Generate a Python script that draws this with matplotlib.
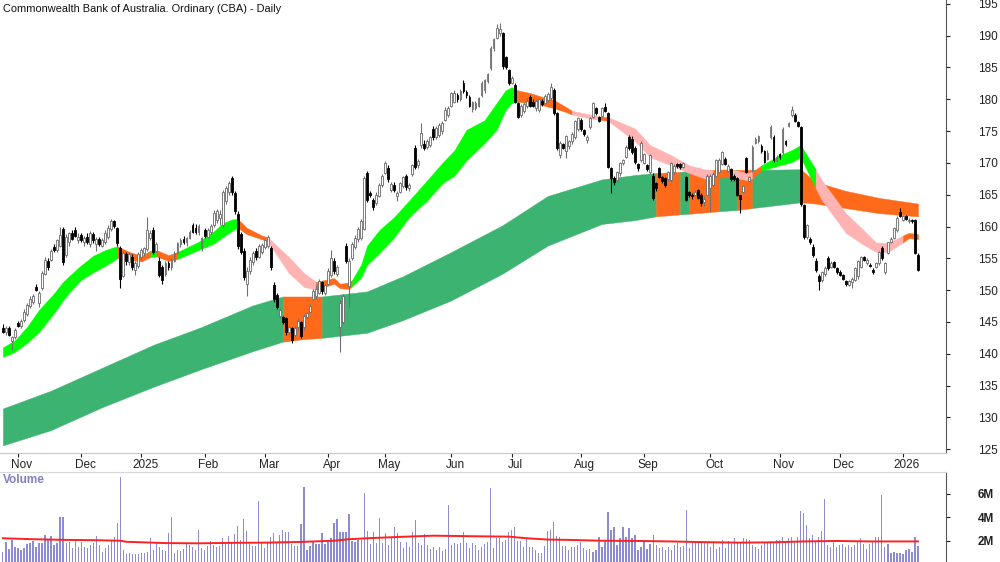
import matplotlib
matplotlib.use("Agg")
import matplotlib.pyplot as plt
import matplotlib.transforms as mtransforms
import numpy as np
import pandas as pd

plt.rcParams["font.family"] = ["Liberation Sans", "DejaVu Sans"]

# trading calendar (ASX holidays)
start_date = "2024-10-25"
holidays = ["2024-12-25", "2024-12-26", "2025-01-01", "2025-01-27", "2025-04-18",
            "2025-04-21", "2025-04-25", "2025-06-09", "2025-12-25", "2025-12-26",
            "2026-01-01"]

opens = [
    144.0, 143.4, 144.1, 142.0, 142.6, 144.8, 144.3, 145.3, 146.3, 147.5,
    148.2, 150.5, 147.9, 150.3, 152.5, 154.5, 154.8, 156.8, 156.3, 157.0,
    159.6, 155.5, 157.6, 159.0, 159.4, 157.8, 158.6, 157.6, 158.4, 157.3,
    158.8, 157.2, 158.0, 157.0, 157.5, 158.4, 159.6, 160.8, 159.8, 156.6,
    152.2, 155.6, 154.4, 155.2, 153.2, 153.8, 155.2, 155.8, 156.4, 158.2,
    159.5, 156.2, 154.6, 153.6, 152.6, 154.2, 153.6, 154.6, 155.8, 157.2,
    158.1, 157.5, 158.2, 160.2, 159.8, 159.2, 156.6, 159.4, 158.4, 159.2,
    160.2, 161.0, 161.4, 160.2, 164.0, 165.4, 167.6, 165.2, 162.0, 158.8,
    156.2, 151.0, 153.0, 154.4, 156.2, 155.2, 156.0, 156.8, 157.0, 156.6,
    150.8, 149.2, 145.9, 145.8, 145.6, 143.4, 144.0, 143.0, 144.2, 145.0,
    144.2, 145.8, 146.6, 148.6, 149.0, 149.6, 151.2, 149.6, 151.0, 152.4,
    154.6, 152.6, 144.2, 145.0, 157.0, 150.6, 155.0, 156.8, 158.0, 158.2,
    159.6, 168.4, 165.3, 164.2, 163.7, 164.8, 166.5, 168.4, 169.2, 165.8,
    166.6, 164.8, 165.4, 166.4, 168.0, 166.0, 168.3, 172.4, 169.6, 172.8,
    173.0, 172.5, 172.8, 175.4, 174.0, 174.4, 175.0, 176.8, 177.5, 179.0,
    179.6, 180.6, 180.0, 182.5, 181.2, 180.3, 178.4, 178.6, 179.0, 180.6,
    181.4, 182.8, 184.9, 188.0, 189.6, 190.4, 190.4, 186.6, 184.6, 182.6,
    182.2, 179.4, 177.5, 178.2, 179.0, 180.3, 179.6, 178.6, 178.3, 179.8,
    179.4, 179.9, 180.2, 181.4, 177.8, 171.2, 172.9, 171.8, 172.6, 173.4,
    174.0, 175.4, 176.8, 175.2, 173.6, 175.6, 177.2, 178.6, 177.2, 177.4,
    178.8, 177.8, 169.2, 167.6, 167.3, 168.4, 170.0, 171.0, 174.0, 173.8,
    172.3, 169.8, 170.4, 170.0, 169.6, 168.5, 168.0, 166.8, 169.2, 167.8,
    167.6, 167.5, 167.3, 168.6, 169.8, 169.8, 169.4, 167.8, 165.4, 165.0,
    165.0, 165.7, 165.0, 163.8, 165.0, 166.0, 166.6, 168.0, 168.6, 169.9,
    170.6, 168.8, 169.0, 168.0, 167.6, 164.9, 165.4, 170.8, 167.2, 168.9,
    173.2, 173.4, 172.6, 171.8, 170.6, 174.0, 174.0, 170.4, 171.4, 171.7,
    173.4, 175.8, 177.5, 177.6, 176.4, 175.6, 163.4, 158.3, 158.0, 156.8,
    154.6, 152.2, 151.6, 152.5, 155.0, 153.6, 154.4, 153.4, 152.9, 152.3,
    151.4, 150.8, 151.2, 151.6, 152.2, 153.6, 155.2, 154.2, 154.0, 153.2,
    153.6, 154.3, 156.6, 152.8, 155.8, 157.6, 158.2, 159.4, 162.3, 161.0,
    161.6, 160.8, 161.0, 161.0, 155.5,
]
highs = [
    144.6, 144.4, 144.3, 142.8, 144.0, 145.2, 145.5, 147.0, 148.0, 149.0,
    149.4, 150.9, 149.8, 153.0, 155.2, 155.0, 156.4, 157.2, 158.0, 159.9,
    160.0, 158.8, 159.2, 159.5, 159.9, 158.9, 159.0, 158.5, 159.0, 159.3,
    159.2, 158.4, 158.4, 158.2, 159.4, 160.2, 161.2, 161.1, 160.0, 157.0,
    156.2, 156.0, 156.0, 155.6, 154.6, 156.0, 156.6, 156.8, 161.5, 159.4,
    159.9, 157.6, 155.2, 154.0, 154.6, 154.6, 155.0, 156.2, 157.6, 158.2,
    158.5, 158.4, 159.4, 160.5, 160.4, 160.4, 158.4, 159.7, 159.8, 160.4,
    162.6, 162.8, 162.6, 165.8, 166.4, 167.2, 168.0, 165.6, 162.4, 159.2,
    156.6, 153.6, 155.2, 156.2, 156.6, 157.2, 157.4, 158.0, 158.6, 157.0,
    151.2, 149.6, 147.2, 146.0, 145.8, 144.4, 144.2, 144.4, 145.6, 145.2,
    146.2, 146.6, 147.8, 150.2, 150.8, 151.8, 151.4, 151.0, 153.4, 156.3,
    155.0, 154.0, 148.4, 149.4, 157.4, 155.0, 157.6, 158.6, 159.9, 161.2,
    168.0, 168.8, 165.6, 164.5, 165.4, 166.8, 168.3, 170.3, 169.6, 167.0,
    167.0, 165.6, 167.0, 168.0, 168.3, 166.8, 169.8, 172.8, 170.6, 176.3,
    173.6, 173.8, 174.2, 175.8, 175.8, 176.2, 176.6, 178.8, 179.0, 181.2,
    181.4, 181.0, 181.6, 183.0, 181.4, 180.6, 179.8, 179.8, 180.4, 182.8,
    183.2, 184.2, 188.4, 189.6, 191.8, 192.0, 190.6, 186.8, 184.8, 183.6,
    182.6, 179.6, 179.2, 179.6, 180.2, 180.6, 180.0, 180.0, 180.2, 180.0,
    180.8, 181.2, 182.6, 181.8, 178.0, 173.4, 173.2, 174.4, 173.6, 174.8,
    176.8, 177.2, 177.0, 175.4, 174.4, 177.2, 179.6, 178.8, 177.4, 178.8,
    179.4, 178.0, 169.4, 168.0, 168.8, 170.2, 170.6, 172.8, 174.4, 174.2,
    172.6, 170.0, 173.4, 171.6, 169.8, 171.4, 168.4, 167.0, 169.4, 168.0,
    167.8, 168.8, 170.2, 169.8, 170.0, 170.0, 170.2, 168.0, 165.6, 165.2,
    165.8, 165.9, 165.2, 164.8, 168.2, 168.2, 168.6, 170.6, 170.8, 171.9,
    171.0, 169.8, 169.2, 168.2, 167.8, 165.0, 166.5, 171.0, 168.0, 172.8,
    174.0, 174.4, 173.0, 172.0, 172.0, 176.0, 174.4, 171.2, 171.6, 175.6,
    173.6, 176.4, 178.9, 177.8, 176.6, 175.8, 163.6, 160.4, 158.3, 157.2,
    155.0, 152.5, 153.0, 153.8, 155.4, 154.6, 154.6, 153.6, 153.1, 152.5,
    151.6, 151.6, 152.0, 153.6, 154.8, 155.4, 155.4, 155.0, 154.2, 153.4,
    154.4, 156.2, 157.0, 154.4, 157.6, 158.4, 160.0, 161.6, 162.9, 161.8,
    161.8, 161.3, 161.2, 161.2, 155.8,
]
lows = [
    143.2, 143.0, 142.8, 140.6, 142.3, 144.2, 144.0, 145.0, 146.0, 147.2,
    147.8, 149.8, 147.4, 150.0, 152.3, 153.2, 154.5, 156.0, 156.0, 156.8,
    154.0, 155.2, 157.0, 157.8, 158.3, 157.4, 157.6, 157.0, 157.3, 156.8,
    157.4, 156.2, 157.0, 156.7, 157.3, 158.0, 159.3, 159.8, 157.0, 150.4,
    152.0, 154.0, 154.0, 153.2, 152.3, 153.5, 154.8, 155.4, 156.1, 157.8,
    155.6, 155.8, 152.0, 151.0, 152.2, 153.2, 153.2, 154.4, 155.6, 156.8,
    157.2, 157.0, 158.0, 158.9, 158.8, 158.6, 156.2, 158.2, 158.2, 158.8,
    160.0, 160.6, 160.2, 160.0, 163.6, 165.0, 165.0, 162.0, 156.4, 155.6,
    151.6, 149.0, 152.6, 154.0, 154.8, 155.0, 155.6, 156.4, 156.6, 153.2,
    148.2, 147.0, 145.6, 144.6, 143.0, 143.0, 141.7, 142.6, 143.8, 142.4,
    143.8, 145.4, 146.4, 148.4, 148.6, 149.4, 149.4, 149.2, 150.8, 152.0,
    152.6, 152.2, 140.2, 144.6, 154.2, 147.4, 154.8, 156.4, 157.6, 157.9,
    159.4, 163.8, 164.6, 162.6, 163.4, 164.6, 166.2, 168.2, 167.0, 165.4,
    165.4, 164.0, 165.2, 166.0, 165.8, 165.6, 168.0, 169.0, 169.2, 172.4,
    172.0, 172.2, 172.5, 173.6, 173.8, 174.0, 174.6, 176.6, 177.2, 178.8,
    179.4, 179.6, 179.8, 181.0, 180.2, 178.8, 178.0, 178.3, 178.8, 180.4,
    181.0, 182.6, 184.6, 187.6, 189.4, 190.0, 184.8, 184.8, 182.2, 182.4,
    179.4, 177.0, 177.2, 177.8, 178.6, 178.8, 178.8, 178.2, 178.0, 179.0,
    179.2, 179.6, 179.9, 177.6, 172.0, 170.8, 172.2, 170.8, 172.2, 173.0,
    173.8, 175.0, 175.0, 174.2, 173.2, 175.4, 177.0, 177.6, 176.4, 177.2,
    178.0, 169.2, 165.2, 166.6, 167.0, 168.0, 169.6, 170.8, 172.0, 171.4,
    169.8, 168.8, 170.2, 169.8, 168.8, 168.2, 164.2, 165.6, 167.6, 166.8,
    166.2, 167.2, 167.0, 168.3, 169.2, 169.0, 169.2, 164.0, 164.6, 164.4,
    164.8, 164.3, 163.3, 163.2, 164.8, 162.3, 166.3, 167.8, 168.4, 169.6,
    169.6, 168.6, 167.2, 167.2, 164.8, 162.2, 165.2, 168.4, 167.0, 168.6,
    173.0, 173.2, 171.6, 170.0, 170.4, 173.8, 170.2, 170.2, 170.6, 171.4,
    172.6, 175.6, 177.2, 176.4, 175.6, 163.2, 158.1, 158.0, 157.2, 155.2,
    152.8, 150.0, 151.3, 152.2, 153.2, 153.4, 153.4, 152.6, 152.2, 151.6,
    150.6, 150.6, 150.4, 151.4, 151.8, 153.4, 154.6, 154.0, 153.6, 152.6,
    153.4, 154.0, 154.8, 152.6, 155.6, 157.4, 158.0, 159.2, 161.5, 160.8,
    161.0, 160.6, 160.6, 155.6, 153.0,
]
closes = [
    143.4, 144.1, 143.0, 142.6, 143.8, 144.4, 145.2, 146.6, 147.6, 148.6,
    149.1, 150.0, 149.5, 152.7, 154.8, 153.6, 156.2, 156.3, 157.8, 158.7,
    154.4, 158.3, 158.9, 158.0, 158.5, 158.4, 157.9, 158.2, 157.6, 159.0,
    157.8, 158.0, 157.3, 157.9, 159.0, 159.8, 160.9, 160.1, 157.4, 151.8,
    155.8, 154.6, 155.6, 153.6, 154.2, 155.6, 156.3, 156.6, 159.4, 159.0,
    156.0, 157.2, 152.4, 151.6, 154.2, 153.6, 154.8, 155.9, 157.4, 157.9,
    157.5, 158.2, 159.2, 159.1, 159.2, 160.0, 158.2, 158.5, 159.5, 160.1,
    162.2, 162.4, 162.0, 165.4, 166.0, 166.9, 165.4, 162.4, 157.0, 156.0,
    152.0, 153.0, 154.8, 155.8, 155.2, 156.9, 157.1, 157.8, 158.3, 153.6,
    148.6, 147.4, 146.8, 145.0, 143.4, 144.2, 142.2, 144.0, 145.2, 142.8,
    145.9, 146.4, 147.5, 149.9, 150.2, 151.4, 149.8, 150.8, 153.0, 155.0,
    153.0, 153.6, 148.0, 149.0, 154.6, 154.6, 157.3, 158.2, 159.6, 160.9,
    167.6, 164.2, 164.9, 163.0, 165.0, 166.5, 168.0, 170.0, 167.4, 166.7,
    165.8, 165.3, 166.8, 167.8, 166.2, 166.5, 169.6, 169.4, 170.3, 174.7,
    172.3, 173.5, 174.0, 174.0, 175.5, 176.0, 176.3, 178.3, 178.6, 181.0,
    181.0, 180.0, 181.3, 181.3, 180.6, 179.0, 179.6, 179.4, 180.2, 182.6,
    183.0, 184.0, 188.1, 189.4, 191.2, 191.0, 185.2, 185.0, 182.5, 183.4,
    179.6, 177.2, 179.0, 179.3, 179.8, 179.0, 179.0, 179.8, 180.0, 179.2,
    180.5, 180.8, 182.0, 177.8, 172.3, 173.2, 172.4, 174.2, 173.4, 174.6,
    176.6, 177.0, 175.4, 174.5, 174.1, 177.0, 179.4, 177.8, 176.6, 178.6,
    178.2, 169.4, 167.6, 167.0, 168.5, 170.0, 170.4, 172.5, 172.3, 171.7,
    170.1, 169.2, 173.1, 171.4, 169.0, 171.2, 164.5, 166.0, 167.8, 167.2,
    166.5, 168.6, 170.0, 169.5, 169.5, 169.3, 170.0, 164.2, 165.0, 164.8,
    165.5, 164.5, 163.7, 164.4, 168.0, 168.0, 168.3, 170.4, 170.5, 171.7,
    169.9, 169.5, 167.5, 167.5, 165.0, 164.3, 166.3, 168.6, 167.8, 172.5,
    173.8, 174.2, 171.8, 170.2, 171.6, 175.6, 170.5, 170.9, 170.9, 175.4,
    172.9, 176.2, 178.3, 176.6, 175.8, 163.5, 158.4, 160.2, 157.5, 155.5,
    153.2, 151.4, 152.8, 153.5, 153.5, 154.3, 153.6, 152.9, 152.4, 151.8,
    150.9, 151.4, 151.8, 153.4, 154.6, 155.2, 154.8, 154.7, 153.8, 152.8,
    154.2, 156.0, 155.0, 154.2, 157.5, 158.1, 159.8, 161.4, 161.7, 161.6,
    161.2, 161.1, 160.8, 155.8, 153.2,
]
volume_m = [
    1.1, 1.9, 1.3, 2.1, 1.5, 1.4, 1.25, 1.4, 1.7, 1.85,
    2.0, 1.5, 1.8, 1.86, 2.5, 2.1, 2.4, 1.66, 1.86, 4.07,
    4.0, 1.8, 1.94, 1.38, 2.09, 1.46, 1.94, 1.46, 1.38, 1.66,
    1.8, 2.45, 1.66, 1.1, 1.4, 1.66, 2.09, 2.3, 3.5, 7.47,
    1.23, 0.9, 0.95, 0.85, 0.85, 0.85, 0.95, 1.0, 1.1, 2.23,
    1.23, 1.86, 1.52, 1.23, 1.15, 2.65, 4.0, 0.95, 1.23, 1.18,
    1.29, 1.74, 1.66, 1.46, 1.23, 2.94, 1.38, 1.23, 1.57, 2.0,
    1.66, 1.46, 1.57, 2.23, 1.74, 2.43, 1.94, 2.57, 3.28, 2.09,
    3.9, 2.85, 1.94, 1.57, 1.57, 5.4, 1.8, 1.38, 1.8, 2.37,
    2.65, 1.8, 2.51, 2.94, 2.74, 2.74, 1.74, 1.57, 1.57, 3.42,
    6.57, 1.23, 1.57, 1.94, 1.74, 1.74, 2.71, 1.74, 2.03, 2.23,
    3.56, 3.84, 2.79, 2.79, 2.79, 4.3, 2.03, 1.94, 2.09, 2.09,
    6.05, 2.88, 1.74, 2.74, 1.8, 3.93, 1.8, 2.65, 1.66, 2.23,
    3.17, 2.65, 1.94, 1.38, 1.94, 1.46, 2.74, 3.79, 1.86, 1.66,
    2.57, 1.66, 1.29, 1.52, 1.23, 1.46, 1.18, 1.29, 5.06, 1.66,
    1.86, 1.74, 1.86, 2.79, 1.8, 1.38, 1.8, 1.66, 1.23, 1.46,
    1.74, 1.94, 6.5, 1.38, 2.23, 2.23, 1.94, 2.09, 2.79, 2.94,
    3.2, 2.03, 2.03, 1.52, 2.23, 1.52, 1.46, 1.23, 0.95, 1.0,
    1.57, 2.88, 2.9, 3.6, 2.4, 2.37, 1.57, 1.57, 1.23, 1.46,
    1.46, 1.66, 1.94, 1.38, 1.23, 1.29, 1.09, 1.23, 2.37, 1.5,
    2.0, 4.5, 2.94, 3.17, 1.66, 2.23, 3.2, 2.37, 3.1, 2.23,
    2.51, 1.23, 1.52, 2.03, 1.29, 1.74, 2.51, 1.66, 1.38, 1.52,
    1.23, 1.52, 1.23, 1.66, 1.86, 1.46, 1.57, 4.6, 1.38, 1.8,
    2.03, 1.8, 1.94, 1.8, 1.94, 1.46, 1.8, 1.29, 1.52, 2.09,
    1.38, 2.03, 1.74, 2.23, 1.86, 1.86, 2.23, 2.16, 2.09, 1.66,
    1.46, 1.29, 1.66, 1.94, 1.86, 2.03, 1.94, 2.09, 2.09, 2.37,
    2.03, 2.23, 2.37, 1.94, 2.37, 4.55, 4.4, 3.35, 2.23, 2.51,
    2.03, 2.37, 2.85, 5.6, 1.66, 1.52, 1.94, 1.46, 1.66, 1.74,
    1.52, 1.66, 1.46, 1.66, 1.94, 2.23, 1.74, 1.29, 1.74, 1.94,
    2.37, 2.37, 5.9, 1.52, 1.74, 0.95, 1.09, 1.0, 0.95, 0.9,
    1.2, 1.3, 1.1, 2.37, 1.57,
]

# volume moving average, candle index -> millions
vma_pos = [0, 10, 21, 32, 39, 41, 54, 65, 76, 88, 99, 110, 115, 121, 132, 143,
           157, 168, 174, 181, 188, 199, 211, 222, 233, 244, 255, 266, 277, 288, 304]
vma_val = [2.23, 2.15, 2.09, 2.06, 2.02, 1.93, 1.82, 1.80, 1.84, 1.86, 1.92, 2.02,
           2.15, 2.23, 2.35, 2.45, 2.40, 2.37, 2.23, 2.12, 2.09, 2.02, 2.0, 1.96,
           1.90, 1.86, 1.88, 1.96, 2.0, 1.96, 1.96]

# short-term ribbon: candle index, lower, upper, colour of the following stretch
short_pos = [0, 4, 8, 12, 17, 20, 22, 26, 30, 34, 38, 42, 46, 49, 51, 55, 58, 65,
             70, 73, 76, 78, 81, 86, 88, 95, 100, 104, 110, 112, 115, 116, 119, 121,
             125, 130, 135, 141, 146, 150, 154, 160, 164, 167, 169, 171, 175, 179,
             183, 187, 189, 195, 198, 201, 205, 210, 215, 222, 228, 234, 236, 242,
             247, 249, 252, 258, 262, 265, 270, 272, 280, 286, 290, 294, 299, 301, 304]
short_lo = [139.5, 140.3, 141.7, 143.4, 146.4, 148.4, 149.6, 151.6, 152.8, 153.8,
            155.0, 154.8, 154.5, 155.2, 155.3, 154.6, 154.9, 156.3, 157.3, 158.3,
            159.3, 159.8, 158.8, 158.0, 157.6, 152.7, 150.5, 150.1, 151.0, 150.3,
            150.2, 150.6, 152.0, 154.0, 155.8, 158.3, 161.5, 164.1, 166.8, 168.0,
            170.4, 173.1, 175.2, 178.3, 179.4, 179.6, 179.4, 179.1, 178.6, 178.0,
            177.6, 177.0, 176.8, 176.6, 175.2, 173.4, 170.9, 169.6, 168.4, 167.4,
            167.6, 167.8, 167.3, 167.6, 168.8, 169.6, 170.1, 170.9, 166.0, 164.2,
            159.0, 157.1, 156.0, 156.0, 157.5, 158.2, 158.0]
short_hi = [141.0, 142.1, 144.2, 146.9, 149.5, 151.3, 152.2, 153.9, 155.4, 156.3,
            156.9, 156.0, 155.4, 156.2, 156.3, 155.5, 156.0, 157.6, 159.2, 160.5,
            161.1, 161.2, 159.8, 158.6, 158.3, 155.2, 152.7, 151.3, 151.9, 151.0,
            151.2, 151.6, 154.0, 157.0, 159.4, 161.5, 164.1, 167.3, 170.0, 172.0,
            175.2, 176.7, 179.4, 181.4, 181.9, 181.4, 181.0, 180.4, 179.9, 178.8,
            178.2, 177.6, 177.3, 177.2, 176.4, 175.4, 172.8, 171.2, 169.6, 168.9,
            168.9, 169.0, 168.4, 168.6, 169.6, 171.2, 172.0, 172.8, 169.0, 167.3,
            162.1, 159.4, 157.5, 157.4, 158.6, 159.0, 158.8]
short_col = "GGGGGGGGGGOOOGOOGGGGGOOOPPPOOOOGGGGGGGGGGGGGGOOOOOPPOPPPPPPPOPPOGGGGPPPPPPOOO"

# long-term ribbon
long_pos = [0, 16, 33, 50, 66, 83, 93, 100, 106, 121, 133, 149, 166, 181, 199, 210,
            217, 225, 228, 238, 244, 249, 265, 270, 280, 291, 304]
long_lo = [125.6, 128.0, 131.6, 134.8, 137.6, 140.4, 141.9, 142.3, 142.5, 143.3,
           145.3, 148.4, 152.6, 157.0, 160.4, 161.0, 161.6, 161.9, 162.0, 162.4,
           162.6, 162.9, 163.8, 163.6, 162.9, 162.1, 161.6]
long_hi = [131.4, 134.2, 137.8, 141.4, 144.2, 147.6, 149.0, 149.0, 149.0, 149.8,
           152.2, 156.0, 160.2, 164.8, 167.4, 168.1, 168.4, 168.6, 168.7, 168.9,
           168.9, 168.9, 169.0, 167.0, 165.6, 164.5, 163.6]
long_col = "DDDDDDOODDDDDDDDODODODOOOOO"

COLOURS = {"G": "#00ff00", "O": "#ff6a1a", "P": "#ffb3b3", "D": "#3cb371"}

o = np.array(opens)
h = np.array(highs)
l = np.array(lows)
c = np.array(closes)
n = len(c)
idx = np.arange(n)
dates = pd.bdate_range(start_date, periods=n, freq="C", holidays=holidays)

fig = plt.figure(figsize=(10, 5.62), dpi=100)
ax = fig.add_axes([0, 1 - 453 / 562, 0.946, 453 / 562])
axv = fig.add_axes([0, 0, 0.946, 90 / 562])


def draw_ribbon(axis, pos, lo, hi, cols):
    # one fill per run of the same colour, so no seams inside a run
    j = 0
    while j < len(pos) - 1:
        e = j
        while e + 1 < len(pos) - 1 and cols[e + 1] == cols[j]:
            e += 1
        col = COLOURS[cols[j]]
        axis.fill_between(pos[j:e + 2], lo[j:e + 2], hi[j:e + 2], color=col,
                          edgecolor=col, linewidth=0.3, zorder=1)
        j = e + 1


draw_ribbon(ax, long_pos, long_lo, long_hi, long_col)
draw_ribbon(ax, short_pos, short_lo, short_hi, short_col)

# candles
up = c >= o
wick_col = np.where(up, "#707070", "#000000")
ax.vlines(idx, l, h, colors=wick_col, linewidth=0.8, zorder=3)
body_bottom = np.minimum(o, c)
body_height = np.maximum(np.abs(c - o), 0.15)
ax.bar(idx, body_height, bottom=body_bottom, width=0.62,
       color=np.where(up, "white", "black"),
       edgecolor=np.where(up, "#6a6a6a", "black"), linewidth=0.6, zorder=4)

ax.set_xlim(-0.96, 313.3)
ax.set_ylim(124.4, 195.6)
ax.yaxis.tick_right()
ax.set_yticks(np.arange(125, 196, 5))
ax.tick_params(axis="y", direction="out", length=3, pad=20, labelsize=8.5,
               colors="#222222")

month_start = [k for k in range(1, n) if dates[k].month != dates[k - 1].month]
month_lbl = [str(dates[k].year) if dates[k].month == 1 else dates[k].strftime("%b")
             for k in month_start]
ax.set_xticks(month_start)
ax.set_xticklabels(month_lbl)
ax.tick_params(axis="x", direction="out", length=3, pad=1, labelsize=8.5,
               colors="#222222")
shift = mtransforms.ScaledTranslation(0.04, 0, fig.dpi_scale_trans)
for lbl in ax.get_xticklabels():
    lbl.set_transform(lbl.get_transform() + shift)

for side in ["left", "top"]:
    ax.spines[side].set_visible(False)
ax.spines["bottom"].set_color("#c8c8c8")
ax.spines["right"].set_color("#555555")

ax.text(3 / 946, 1 - 9 / 453, "Commonwealth Bank of Australia. Ordinary (CBA) - Daily",
        transform=ax.transAxes, fontsize=7.9, va="center", ha="left", color="#111111",
        bbox=dict(facecolor="white", edgecolor="none", pad=1), zorder=6)

# volume panel
axv.bar(idx, volume_m, width=0.4, color="#8c8cd2", zorder=2)
axv.plot(vma_pos, vma_val, color="#ff2020", linewidth=1.4, zorder=3)
axv.set_xlim(-0.96, 313.3)
axv.set_ylim(0.21, 7.87)
axv.yaxis.tick_right()
axv.set_yticks([2, 4, 6])
axv.set_yticklabels(["2M", "4M", "6M"], fontweight="bold")
axv.tick_params(axis="y", direction="out", length=3, pad=20, labelsize=8.5,
                colors="#222222")
axv.set_xticks([])
for side in ["left", "bottom"]:
    axv.spines[side].set_visible(False)
axv.spines["top"].set_color("#d8d8d8")
axv.spines["right"].set_color("#555555")
axv.text(3 / 946, 1 - 8 / 90, "Volume", transform=axv.transAxes, fontsize=8.5,
         fontweight="bold", color="#8080c0", va="center", ha="left")

fig.savefig("out.png", dpi=100)
